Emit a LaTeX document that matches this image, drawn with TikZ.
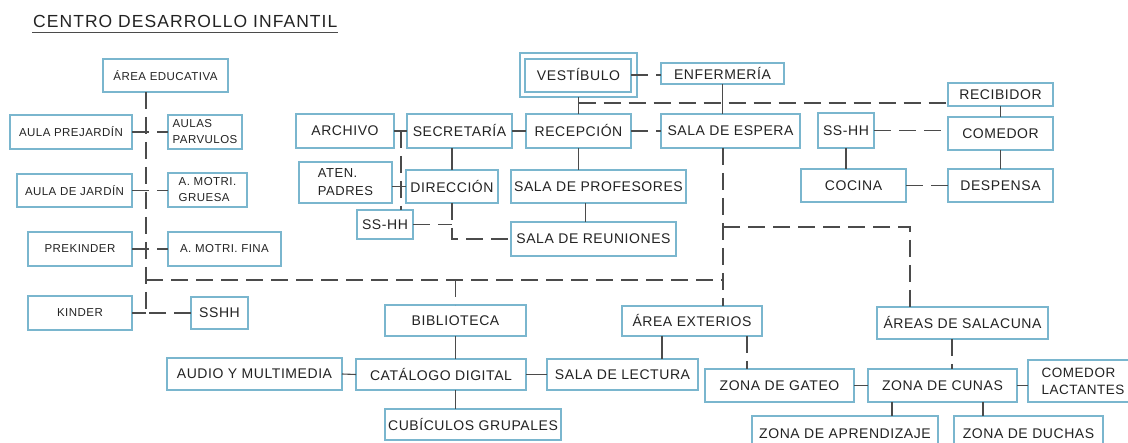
\documentclass[tikz,border=0pt]{standalone}
\usepackage{fontspec}
\setmainfont{Liberation Sans}
\newfontfamily\boxfont[LetterSpace=4]{Liberation Sans}
\newfontfamily\smallfont[LetterSpace=4]{Liberation Sans}
\newfontfamily\titlefont[LetterSpace=6]{Liberation Sans}
\definecolor{boxblue}{RGB}{122,182,206}
\definecolor{linegray}{RGB}{75,75,75}
\definecolor{txt}{RGB}{35,35,35}
\tikzset{
  box/.style={draw=boxblue, line width=1.1pt, inner sep=0pt, outer sep=0pt, text=txt,
    font=\boxfont\fontsize{14}{17}\selectfont, align=center},
  smallbox/.style={box, font=\smallfont\fontsize{11.5}{16}\selectfont},
  solidline/.style={draw=linegray, line width=1.1pt},
  dashline/.style={solidline, dash pattern=on 17pt off 8pt},
  titletext/.style={inner sep=0pt, text=txt, font=\titlefont\fontsize{17.5}{20}\selectfont},
}
\newcommand{\bx}[7]{\node[#6, minimum width={(#4)-(#2)}, minimum height={(#5)-(#3)}] (#1) at ({((#2)+(#4))/2},{((#3)+(#5))/2}) {#7};}
\begin{document}
\begin{tikzpicture}[x=1pt,y=-1pt]
\fill[white] (0,0) rectangle (1128,443);
\useasboundingbox (0,0) rectangle (1128,443);

% title
\node[titletext, anchor=base west] (title) at (33,28) {CENTRO DESARROLLO INFANTIL};
\draw[draw=linegray, line width=1.3pt] ([yshift=-4.5pt,xshift=-1pt]title.base west) -- ([yshift=-4.5pt]title.base east);

% left column
\bx{ae}{103}{59}{228}{92}{smallbox}{ÁREA EDUCATIVA}
\bx{apj}{10}{115}{132}{149}{smallbox}{AULA PREJARDÍN}
\bx{apv}{168}{115}{242}{149}{smallbox,align=left}{AULAS\\PARVULOS}
\bx{ajd}{17}{174}{132}{207}{smallbox}{AULA DE JARDÍN}
\bx{amg}{168}{173}{247}{207}{smallbox,align=left}{A. MOTRI.\\GRUESA}
\bx{pk}{28}{232}{132}{266}{smallbox}{PREKINDER}
\bx{amf}{168}{232}{281}{266}{smallbox}{A. MOTRI. FINA}
\bx{kd}{28}{296}{132}{330}{smallbox}{KINDER}
\bx{sshh}{191}{297}{248}{329}{box}{SSHH}

% middle
\bx{vest}{520}{53}{637}{97}{box}{VESTÍBULO}
\draw[draw=boxblue, line width=1.1pt] ([shift={(5pt,-6pt)}]vest.north west) rectangle ([shift={(-6pt,5pt)}]vest.south east);
\bx{enf}{661}{63}{784}{84}{box}{ENFERMERÍA}
\bx{arch}{296}{114}{394}{148}{box}{ARCHIVO}
\bx{sec}{407}{114}{512}{148}{box}{SECRETARÍA}
\bx{rec}{526}{114}{631}{148}{box}{RECEPCIÓN}
\bx{se}{661}{114}{800}{148}{box}{SALA DE ESPERA}
\bx{aten}{299}{162}{392}{203}{box,align=left,font=\boxfont\fontsize{13}{18}\selectfont}{ATEN.\\PADRES}
\bx{dir}{406}{170}{498}{203}{box}{DIRECCIÓN}
\bx{sp}{511}{170}{686}{203}{box}{SALA DE PROFESORES}
\bx{ssl}{357}{210}{413}{239}{box}{SS-HH}
\bx{sr}{511}{222}{676}{256}{box}{SALA DE REUNIONES}

% right top
\bx{recb}{948}{83}{1053}{106}{box}{RECIBIDOR}
\bx{com}{948}{117}{1053}{150}{box}{COMEDOR}
\bx{ssr}{818}{113}{874}{148}{box}{SS-HH}
\bx{coc}{801}{169}{906}{202}{box}{COCINA}
\bx{desp}{948}{169}{1053}{202}{box}{DESPENSA}

% bottom
\bx{bib}{385}{305}{526}{336}{box}{BIBLIOTECA}
\bx{cat}{356}{359}{526}{390}{box}{CATÁLOGO DIGITAL}
\bx{aud}{167}{358}{342}{390}{box}{AUDIO Y MULTIMEDIA}
\bx{cub}{385}{409}{561}{440}{box}{CUBÍCULOS GRUPALES}
\bx{sl}{547}{359}{698}{390}{box}{SALA DE LECTURA}
\bx{aex}{622}{306}{762}{336}{box}{ÁREA EXTERIOS}
\bx{asc}{877}{307}{1048}{339}{box}{ÁREAS DE SALACUNA}
\bx{zg}{705}{369}{854}{402}{box}{ZONA DE GATEO}
\bx{zc}{868}{369}{1017}{402}{box}{ZONA DE CUNAS}
\bx{cl}{1028}{360}{1138}{402}{box,align=left,font=\boxfont\fontsize{13.5}{17}\selectfont}{COMEDOR\\LACTANTES}
\bx{za}{752}{416}{938}{452}{box}{ZONA DE APRENDIZAJE}
\bx{zd}{954}{416}{1103}{452}{box}{ZONA DE DUCHAS}

% helper coordinates for trunk lines
\coordinate (xL) at (146,0);
\coordinate (xE) at (723,0);
\coordinate (xS) at (910,0);
\coordinate (xA) at (401,0);
\coordinate (yH) at (0,280);
\coordinate (yR) at (0,227);
\coordinate (yV) at (0,103);

% left connectors
\draw[dashline] (ae.south -| xL) -- (kd.east -| xL);
\draw[solidline] (kd.east -| xL) -- (kd.east);
\draw[dashline] (sshh.west) -- (kd.east -| xL);
\draw[dashline] (apj.east) -- (apv.west);
\draw[dashline] (ajd.east) -- (ajd.east -| amg.west);
\draw[dashline] (pk.east) -- (pk.east -| amf.west);

% main horizontal and trunks
\draw[dashline] (yH -| xL) -- (yH -| xE);
\draw[dashline] (yH -| bib.north) -- (bib.north);
\draw[dashline] (se.south -| xE) -- (aex.north -| xE);
\draw[dashline] (yR -| xE) -- (yR -| xS) -- (asc.north -| xS);

% middle connectors
\draw[solidline] (vest.south) -- (rec.north);
\draw[dashline] (yV -| vest.south) -- (yV -| recb.west);
\draw[dashline] ([xshift=-6pt]vest.east) -- (vest.east -| enf.west);
\draw[solidline] (enf.south) -- (enf.south |- se.north);
\draw[solidline] (sec.east) -- (rec.west);
\draw[dashline] (rec.east) -- (se.west);
\draw[solidline] (arch.east) -- (sec.west);
\draw[dashline] (arch.east -| xA) -- (ssl.north -| xA);
\draw[solidline] (dir.west) -- (dir.west -| aten.east);
\draw[solidline] (dir.north) -- (dir.north |- sec.south);
\draw[dashline] (dir.south) |- (sr.west);
\draw[dashline] (ssl.east) -- (ssl.east -| dir.south);
\draw[solidline] (rec.south) -- (rec.south |- sp.north);
\draw[solidline] ([xshift=-13pt]sp.south) -- ([xshift=-13pt]sp.south |- sr.north);

% right top connectors
\draw[solidline] (recb.south) -- (com.north);
\draw[solidline] (com.south) -- (desp.north);
\draw[dashline] (ssr.east) -- (ssr.east -| com.west);
\draw[solidline] (ssr.south) -- (ssr.south |- coc.north);
\draw[dashline] (coc.east) -- (desp.west);

% bottom connectors
\draw[solidline] (bib.south) -- (bib.south |- cat.north);
\draw[solidline] (bib.south |- cat.south) -- (bib.south |- cub.north);
\draw[solidline] (aud.east) -- (cat.west);
\draw[solidline] (cat.east) -- (sl.west);
\draw[solidline] ([xshift=-30pt]aex.south) -- ([xshift=-30pt]aex.south |- sl.north);
\draw[dashline] ([xshift=55pt]aex.south) -- ([xshift=55pt]aex.south |- zg.north);
\draw[solidline] (zg.east) -- (zc.west);
\draw[dashline] ([xshift=-10.5pt]asc.south) -- ([xshift=-10.5pt]asc.south |- zc.north);
\draw[solidline] (zc.east) -- (zc.east -| cl.west);
\draw[solidline] ([xshift=-50.5pt]zc.south) -- ([xshift=-50.5pt]zc.south |- za.north);
\draw[solidline] ([xshift=40.5pt]zc.south) -- ([xshift=40.5pt]zc.south |- zd.north);
\end{tikzpicture}
\end{document}
